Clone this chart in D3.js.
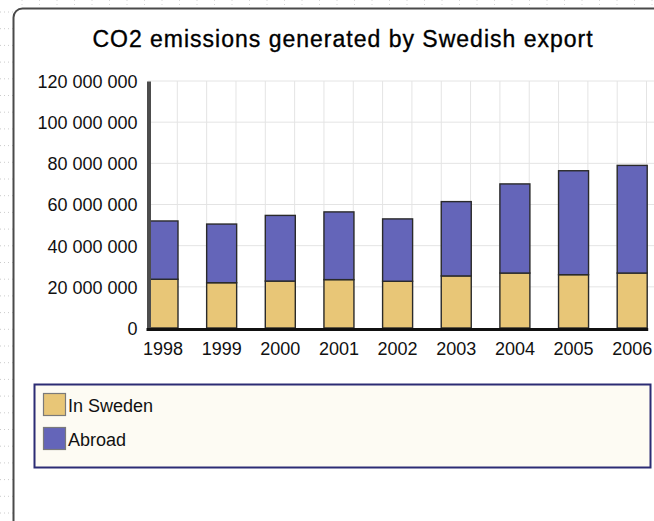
<!DOCTYPE html>
<html>
<head>
<meta charset="utf-8">
<script src="https://cdn.jsdelivr.net/npm/d3@7/dist/d3.min.js"></script>
<style>
  html, body { margin: 0; padding: 0; background: #fff; }
  svg { display: block; font-family: "Liberation Sans", Arial, sans-serif; }
</style>
</head>
<body>
<svg id="chart" width="654" height="521"></svg>
<script>
// ---- data ----
const years = ["1998", "1999", "2000", "2001", "2002", "2003", "2004", "2005", "2006"];
const inSweden = [23700000, 22000000, 22800000, 23500000, 22700000, 25300000, 26700000, 25900000, 26700000];
const abroad   = [28300000, 28500000, 31900000, 32900000, 30300000, 36100000, 43300000, 50500000, 52300000];
const seriesNames = ["In Sweden", "Abroad"];
const seriesColors = ["#E8C677", "#6465B9"];
const yTicks = [0, 20000000, 40000000, 60000000, 80000000, 100000000, 120000000];
const title = "CO2 emissions generated by Swedish export";

const svg = d3.select("#chart");
const W = 654, H = 521;

// ---- dotted page background ----
const bg = svg.append("g");
for (let yy = 12; yy < H; yy += 16.7) {
  bg.append("line").attr("x1", 0).attr("x2", W).attr("y1", yy).attr("y2", yy)
    .attr("stroke", "#cccccc").attr("stroke-width", 1).attr("stroke-dasharray", "1,3");
}
for (let xx = 22; xx < W; xx += 17.5) {
  bg.append("line").attr("x1", xx).attr("x2", xx).attr("y1", 0).attr("y2", H)
    .attr("stroke", "#d8d8d8").attr("stroke-width", 1).attr("stroke-dasharray", "1,3");
}

// ---- frame ----
svg.append("rect")
  .attr("x", 13.5).attr("y", 8.5).attr("width", 700).attr("height", 600)
  .attr("rx", 9).attr("ry", 9)
  .attr("fill", "#ffffff").attr("stroke", "#4a4a4a").attr("stroke-width", 2);

// ---- title ----
svg.append("text")
  .attr("x", 343).attr("y", 47)
  .attr("text-anchor", "middle")
  .attr("font-size", 23)
  .attr("letter-spacing", 1)
  .attr("stroke", "#000").attr("stroke-width", 0.35)
  .attr("fill", "#000")
  .text(title);

// ---- scales ----
const x = d3.scaleBand().domain(years).range([148, 647.2])
  .paddingInner(0.4885).paddingOuter(0).align(0);
const y = d3.scaleLinear().domain([0, 120000000]).range([328, 81]);
const step = x.step();

// ---- grid ----
const grid = svg.append("g");
grid.selectAll("line.h").data(yTicks.slice(1)).join("line")
  .attr("x1", 148).attr("x2", W)
  .attr("y1", d => y(d)).attr("y2", d => y(d))
  .attr("stroke", "#e4e4e4").attr("stroke-width", 1);
const vg = [];
years.forEach(d => { vg.push(x(d) + step / 2); vg.push(x(d) + step); });
grid.selectAll("line.v").data(vg.filter(v => v < W)).join("line")
  .attr("x1", d => d).attr("x2", d => d)
  .attr("y1", y(120000000)).attr("y2", y(0))
  .attr("stroke", "#e4e4e4").attr("stroke-width", 1);

// ---- stacked bars ----
const rows = years.map((yr, i) => ({ year: yr, "In Sweden": inSweden[i], "Abroad": abroad[i] }));
const stack = d3.stack().keys(seriesNames)(rows);
const color = d3.scaleOrdinal().domain(seriesNames).range(seriesColors);

svg.append("g").selectAll("g").data(stack).join("g")
  .attr("fill", d => color(d.key))
  .selectAll("rect").data(d => d).join("rect")
  .attr("x", d => x(d.data.year))
  .attr("y", d => y(d[1]))
  .attr("width", x.bandwidth())
  .attr("height", d => y(d[0]) - y(d[1]))
  .attr("stroke", "#2a2a2a").attr("stroke-width", 1.4);

// ---- axes ----
const locale = d3.formatLocale({ decimal: ".", thousands: " ", grouping: [3], currency: ["", ""] });
const fmt = locale.format(",");

const yAxis = svg.append("g").attr("transform", "translate(148.5,0)")
  .call(d3.axisLeft(y).tickValues(yTicks).tickFormat(fmt).tickSize(0).tickSizeOuter(0).tickPadding(11));
yAxis.select(".domain").attr("stroke", "#4d4d4d").attr("stroke-width", 4);
yAxis.selectAll("text").attr("font-size", 18).attr("fill", "#111")
  .attr("font-family", "'Liberation Sans', Arial, sans-serif").attr("dy", "0.36em");

const xAxis = svg.append("g").attr("transform", "translate(0,329.5)")
  .call(d3.axisBottom(x).tickSize(0).tickSizeOuter(0));
xAxis.select(".domain").attr("stroke", "#111").attr("stroke-width", 3)
  .attr("d", "M146.5,0H" + (x.range()[1] + 1));
xAxis.selectAll("text").attr("font-size", 18).attr("fill", "#111")
  .attr("font-family", "'Liberation Sans', Arial, sans-serif")
  .attr("y", 25.5).attr("dy", null);

// ---- legend ----
const lg = svg.append("g");
lg.append("rect").attr("x", 34.5).attr("y", 384.5).attr("width", 616).attr("height", 83)
  .attr("fill", "#FDFBF3").attr("stroke", "#2c2c74").attr("stroke-width", 2);
const items = lg.selectAll("g.item").data(seriesNames).join("g")
  .attr("transform", (d, i) => `translate(0,${i * 34})`);
items.append("rect").attr("x", 43.5).attr("y", 393.5).attr("width", 22).attr("height", 22)
  .attr("fill", d => color(d)).attr("stroke", "#7a7a7a").attr("stroke-width", 1.2);
items.append("text").attr("x", 68).attr("y", 411.5)
  .attr("font-size", 18).attr("fill", "#111").text(d => d);
</script>
</body>
</html>
